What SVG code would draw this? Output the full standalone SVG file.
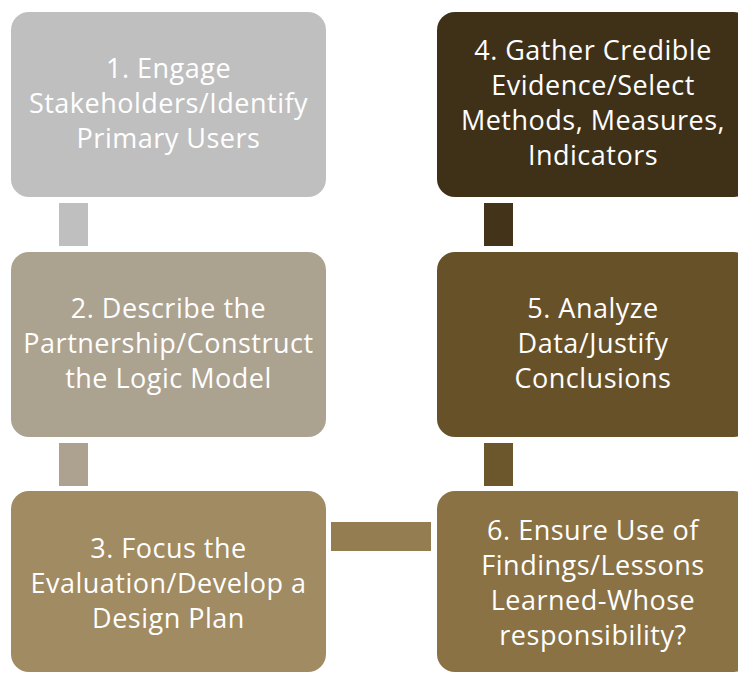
<svg xmlns="http://www.w3.org/2000/svg" width="738" height="673" viewBox="0 0 738 673">
<style>
  text { font-family: "Open Sans", "Noto Sans", "Liberation Sans", sans-serif; font-size: 27px; letter-spacing: 0.5px; fill: #ffffff; text-anchor: middle; }
</style>
<rect x="0" y="0" width="738" height="673" fill="#ffffff"/>
<g id="connectors">
  <rect x="59" y="203" width="29" height="43" fill="#bfbfbf"/>
  <rect x="59" y="443" width="29" height="43" fill="#aca28f"/>
  <rect x="331" y="522" width="100" height="29" fill="#947e51"/>
  <rect x="484" y="203" width="29" height="43" fill="#433419"/>
  <rect x="484" y="443" width="29" height="43" fill="#6c572c"/>
</g>
<g id="node1">
  <rect x="11" y="12" width="315" height="185" rx="18" fill="#bfbfbf"/>
  <text x="168.5" y="78">1. Engage</text>
  <text x="168.5" y="113">Stakeholders/Identify</text>
  <text x="168.5" y="148">Primary Users</text>
</g>
<g id="node2">
  <rect x="11" y="252" width="315" height="185" rx="18" fill="#aca290"/>
  <text x="168.5" y="318">2. Describe the</text>
  <text x="168.5" y="353">Partnership/Construct</text>
  <text x="168.5" y="388">the Logic Model</text>
</g>
<g id="node3">
  <rect x="11" y="491" width="315" height="181" rx="18" fill="#a08b62"/>
  <text x="168.5" y="558">3. Focus the</text>
  <text x="168.5" y="593">Evaluation/Develop a</text>
  <text x="168.5" y="628">Design Plan</text>
</g>
<g id="node4">
  <rect x="437" y="12" width="315" height="185" rx="18" fill="#3f3118"/>
  <text x="593" y="60">4. Gather Credible</text>
  <text x="593" y="95">Evidence/Select</text>
  <text x="593" y="130">Methods, Measures,</text>
  <text x="593" y="165">Indicators</text>
</g>
<g id="node5">
  <rect x="437" y="252" width="315" height="185" rx="18" fill="#675129"/>
  <text x="593" y="318">5. Analyze</text>
  <text x="593" y="353">Data/Justify</text>
  <text x="593" y="388">Conclusions</text>
</g>
<g id="node6">
  <rect x="437" y="491" width="315" height="181" rx="18" fill="#8a7245"/>
  <text x="593" y="540">6. Ensure Use of</text>
  <text x="593" y="575">Findings/Lessons</text>
  <text x="593" y="610">Learned-Whose</text>
  <text x="593" y="645">responsibility?</text>
</g>
</svg>
